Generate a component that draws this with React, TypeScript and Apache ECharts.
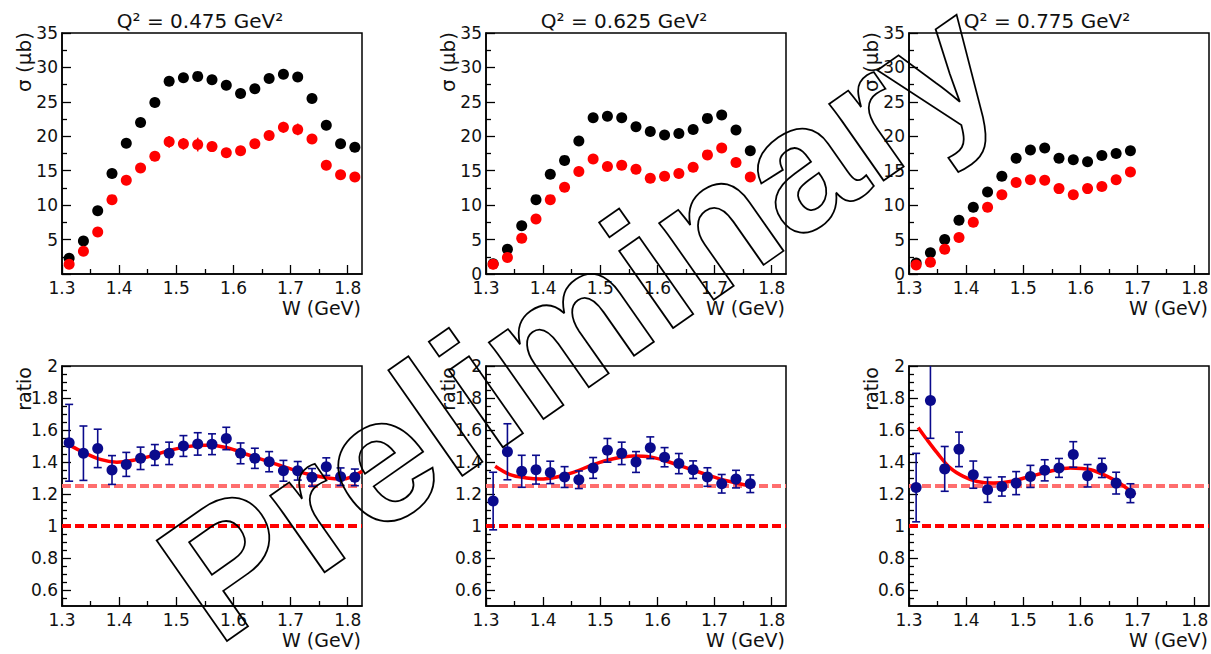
import React, { useEffect, useRef } from 'react';
import * as echarts from 'echarts';

// ---------------- data ----------------
const W_BINS = [1.3125, 1.3375, 1.3625, 1.3875, 1.4125, 1.4375, 1.4625, 1.4875, 1.5125, 1.5375, 1.5625,
  1.5875, 1.6125, 1.6375, 1.6625, 1.6875, 1.7125, 1.7375, 1.7625, 1.7875, 1.8125];

const Q2_TITLES = ['Q² = 0.475 GeV²', 'Q² = 0.625 GeV²', 'Q² = 0.775 GeV²'];

const SIG_BLACK_1 = [2.3, 4.8, 9.2, 14.6, 19.0, 22.0, 24.9, 28.0, 28.5, 28.7, 28.2, 27.4, 26.2, 26.9, 28.4, 29.0, 28.6, 25.5, 21.6, 18.9, 18.4];
const SIG_RED_1 = [1.4, 3.3, 6.1, 10.8, 13.6, 15.4, 17.1, 19.2, 18.9, 18.8, 18.5, 17.6, 17.9, 18.9, 20.1, 21.3, 21.0, 19.6, 15.8, 14.4, 14.1];
const ERR_RED_1 = [0.3, 0.4, 0.4, 0.5, 0.5, 0.5, 0.6, 0.85, 0.85, 1.0, 0.7, 0.6, 0.6, 0.6, 0.7, 0.8, 0.85, 0.6, 0.5, 0.5, 0.5];

const SIG_BLACK_2 = [1.5, 3.6, 7.0, 10.8, 14.5, 16.5, 19.3, 22.7, 22.9, 22.7, 21.4, 20.7, 20.2, 20.4, 21.0, 22.6, 23.1, 20.9, 17.9];
const SIG_RED_2 = [1.4, 2.4, 5.2, 8.0, 10.8, 12.6, 14.9, 16.7, 15.6, 15.8, 15.2, 13.9, 14.2, 14.6, 15.5, 17.3, 18.3, 16.2, 14.1];
const ERR_RED_2 = [0.3, 0.3, 0.4, 0.4, 0.4, 0.5, 0.5, 0.6, 0.6, 0.6, 0.6, 0.5, 0.5, 0.5, 0.6, 0.6, 0.7, 0.6, 0.6];

const SIG_BLACK_3 = [1.6, 3.1, 5.0, 7.8, 9.7, 11.9, 14.2, 16.8, 18.0, 18.3, 16.8, 16.6, 16.3, 17.2, 17.5, 17.9];
const SIG_RED_3 = [1.3, 1.7, 3.6, 5.3, 7.5, 9.7, 11.5, 13.3, 13.7, 13.6, 12.4, 11.5, 12.4, 12.7, 13.7, 14.8];
const ERR_RED_3 = [0.3, 0.3, 0.3, 0.4, 0.4, 0.4, 0.5, 0.5, 0.5, 0.5, 0.5, 0.5, 0.5, 0.5, 0.5, 0.6];

const RATIO_1 = [1.52, 1.455, 1.485, 1.35, 1.385, 1.423, 1.444, 1.454, 1.50, 1.513, 1.511, 1.547, 1.454, 1.423, 1.402, 1.345, 1.345, 1.304, 1.371, 1.308, 1.304];
const RATIO_ERR_1 = [0.24, 0.17, 0.12, 0.09, 0.075, 0.07, 0.065, 0.07, 0.065, 0.07, 0.065, 0.07, 0.065, 0.063, 0.063, 0.065, 0.058, 0.055, 0.055, 0.055, 0.052];
const RATIO_2 = [1.156, 1.464, 1.342, 1.352, 1.335, 1.306, 1.289, 1.363, 1.473, 1.454, 1.40, 1.489, 1.430, 1.390, 1.352, 1.306, 1.264, 1.293, 1.264];
const RATIO_ERR_2 = [0.18, 0.175, 0.10, 0.09, 0.07, 0.065, 0.055, 0.065, 0.074, 0.07, 0.065, 0.068, 0.06, 0.063, 0.055, 0.058, 0.058, 0.055, 0.055];
const RATIO_3 = [1.24, 1.785, 1.357, 1.479, 1.321, 1.226, 1.247, 1.268, 1.31, 1.348, 1.363, 1.447, 1.314, 1.363, 1.268, 1.205];
const RATIO_ERR_3 = [0.214, 0.237, 0.14, 0.108, 0.085, 0.078, 0.06, 0.072, 0.069, 0.066, 0.059, 0.08, 0.07, 0.06, 0.068, 0.059];

const FIT_W_1 = [1.314, 1.337, 1.367, 1.396, 1.425, 1.455, 1.484, 1.519, 1.554, 1.589, 1.624, 1.659, 1.695, 1.730, 1.765, 1.788, 1.806, 1.825];
const FIT_1 = [1.504, 1.462, 1.416, 1.399, 1.411, 1.437, 1.468, 1.496, 1.504, 1.489, 1.447, 1.405, 1.363, 1.325, 1.30, 1.293, 1.306, 1.342];
const FIT_W_2 = [1.316, 1.342, 1.371, 1.395, 1.424, 1.453, 1.488, 1.523, 1.558, 1.587, 1.616, 1.651, 1.686, 1.721, 1.762];
const FIT_2 = [1.373, 1.321, 1.30, 1.293, 1.306, 1.335, 1.384, 1.42, 1.437, 1.432, 1.405, 1.363, 1.321, 1.283, 1.251];
const FIT_W_3 = [1.316, 1.331, 1.349, 1.372, 1.395, 1.419, 1.448, 1.477, 1.512, 1.547, 1.582, 1.618, 1.647, 1.670, 1.696];
const FIT_3 = [1.616, 1.542, 1.458, 1.363, 1.31, 1.278, 1.268, 1.278, 1.31, 1.342, 1.363, 1.352, 1.31, 1.264, 1.194];

const REF_LEVELS = [1.25, 1.0];

const X_RANGE = [1.3, 1.825];
const X_MAJOR = [1.3, 1.4, 1.5, 1.6, 1.7, 1.8];
const X_MINOR = [1.35, 1.45, 1.55, 1.65, 1.75];
const SIG_RANGE = [0, 35];
const SIG_MAJOR = [0, 5, 10, 15, 20, 25, 30, 35];
const SIG_MAJOR_NO0 = [5, 10, 15, 20, 25, 30, 35];
const SIG_MINOR = [2.5, 7.5, 12.5, 17.5, 22.5, 27.5, 32.5];
const RATIO_RANGE = [0.5, 2];
const RATIO_MAJOR = [0.6, 0.8, 1.0, 1.2, 1.4, 1.6, 1.8, 2.0];
const RATIO_MINOR = [0.55, 0.65, 0.7, 0.75, 0.85, 0.9, 0.95, 1.05, 1.1, 1.15, 1.25, 1.3, 1.35, 1.45, 1.5, 1.55,
  1.65, 1.7, 1.75, 1.85, 1.9, 1.95];

// ---------------- style ----------------
const FONT = 'DejaVu Sans';
const TXT = '#111111';
const LEFTS = [62, 486, 909];
const PW = 300;
const ROW_TOP = { top: 33, height: 241 };
const ROW_BOT = { top: 366, height: 240 };
const BLUE = '#0a0a8c';
const RED = '#ff0000';
const PINK = '#ff6e6e';

const TOPS = [
  { black: SIG_BLACK_1, red: SIG_RED_1, err: ERR_RED_1, ticks: SIG_MAJOR_NO0 },
  { black: SIG_BLACK_2, red: SIG_RED_2, err: ERR_RED_2, ticks: SIG_MAJOR },
  { black: SIG_BLACK_3, red: SIG_RED_3, err: ERR_RED_3, ticks: SIG_MAJOR },
];
const BOTS = [
  { r: RATIO_1, e: RATIO_ERR_1, fw: FIT_W_1, f: FIT_1 },
  { r: RATIO_2, e: RATIO_ERR_2, fw: FIT_W_2, f: FIT_2 },
  { r: RATIO_3, e: RATIO_ERR_3, fw: FIT_W_3, f: FIT_3 },
];

function fmt(v: number) {
  return String(Number(Number(v).toFixed(3)));
}

function errRender(color: string, cap: number) {
  return (params: any, api: any) => {
    const x = api.value(0);
    const y = api.value(1);
    const e = api.value(2);
    const t = api.coord([x, y + e]);
    const b = api.coord([x, y - e]);
    const st = { stroke: color, lineWidth: 1.6 };
    const children: any[] = [
      { type: 'line', shape: { x1: t[0], y1: t[1], x2: b[0], y2: b[1] }, style: st },
    ];
    if (cap > 0) {
      children.push({ type: 'line', shape: { x1: t[0] - cap, y1: t[1], x2: t[0] + cap, y2: t[1] }, style: st });
      children.push({ type: 'line', shape: { x1: b[0] - cap, y1: b[1], x2: b[0] + cap, y2: b[1] }, style: st });
    }
    return { type: 'group', children };
  };
}

function buildOption() {
  const grid: any[] = [];
  const xAxis: any[] = [];
  const yAxis: any[] = [];
  const series: any[] = [];
  const graphic: any[] = [];

  const axisCommon = {
    type: 'value',
    splitLine: { show: false },
  };

  const addPanel = (g: number, left: number, row: any, yRange: number[], yMajor: number[], yMinor: number[], yLabels: number[]) => {
    grid.push({
      left, top: row.top, width: PW, height: row.height,
      show: true, borderColor: '#000', borderWidth: 1.5, backgroundColor: 'transparent',
      containLabel: false, outerBoundsMode: 'none',
    });
    xAxis.push({
      ...axisCommon, gridIndex: g, position: 'bottom', min: X_RANGE[0], max: X_RANGE[1],
      axisLine: { show: true, onZero: false, lineStyle: { color: '#000', width: 1.5 } },
      axisTick: { show: true, inside: true, length: 9, customValues: X_MAJOR, lineStyle: { color: '#000', width: 1.3 } },
      axisLabel: { show: true, customValues: X_MAJOR, formatter: (v: number) => Number(v).toFixed(1), fontFamily: FONT, fontSize: 17, color: TXT, margin: 5 },
    });
    xAxis.push({
      ...axisCommon, gridIndex: g, position: 'bottom', min: X_RANGE[0], max: X_RANGE[1],
      axisLine: { show: false, onZero: false },
      axisTick: { show: true, inside: true, length: 5, customValues: X_MINOR, lineStyle: { color: '#000', width: 1.3 } },
      axisLabel: { show: false },
    });
    yAxis.push({
      ...axisCommon, gridIndex: g, position: 'left', min: yRange[0], max: yRange[1],
      axisLine: { show: true, onZero: false, lineStyle: { color: '#000', width: 1.5 } },
      axisTick: { show: true, inside: true, length: 9, customValues: yMajor, lineStyle: { color: '#000', width: 1.3 } },
      axisLabel: { show: true, customValues: yLabels, formatter: fmt, fontFamily: FONT, fontSize: 17, color: TXT, margin: 4 },
    });
    yAxis.push({
      ...axisCommon, gridIndex: g, position: 'left', min: yRange[0], max: yRange[1],
      axisLine: { show: false, onZero: false },
      axisTick: { show: true, inside: true, length: 5, customValues: yMinor, lineStyle: { color: '#000', width: 1.3 } },
      axisLabel: { show: false },
    });
  };

  // top row
  TOPS.forEach((p, k) => {
    const g = k;
    addPanel(g, LEFTS[k], ROW_TOP, SIG_RANGE, SIG_MAJOR, SIG_MINOR, p.ticks);
    const n = p.black.length;
    const xs = W_BINS.slice(0, n);
    series.push({
      type: 'custom', xAxisIndex: 2 * g, yAxisIndex: 2 * g, clip: true, z: 3,
      renderItem: errRender(RED, 0),
      data: xs.map((w, i) => [w, p.red[i], p.err[i]]),
    });
    series.push({
      type: 'scatter', xAxisIndex: 2 * g, yAxisIndex: 2 * g, symbol: 'circle', symbolSize: 11, z: 4,
      itemStyle: { color: '#000', opacity: 1 },
      data: xs.map((w, i) => [w, p.black[i]]),
    });
    series.push({
      type: 'scatter', xAxisIndex: 2 * g, yAxisIndex: 2 * g, symbol: 'circle', symbolSize: 11, z: 5,
      itemStyle: { color: RED, opacity: 1 },
      data: xs.map((w, i) => [w, p.red[i]]),
    });
    graphic.push({
      type: 'text', x: LEFTS[k] + PW / 2 - 12, y: 21, z: 10,
      style: { text: Q2_TITLES[k], fontFamily: FONT, fontSize: 20, fill: TXT, textAlign: 'center', textVerticalAlign: 'middle' },
    });
    graphic.push({
      type: 'text', x: LEFTS[k] + PW - 1, y: 308, z: 10,
      style: { text: 'W (GeV)', fontFamily: FONT, fontSize: 19, fill: TXT, textAlign: 'right', textVerticalAlign: 'middle' },
    });
    graphic.push({
      type: 'text', x: LEFTS[k] - 38, y: 32, z: 10, rotation: Math.PI / 2,
      style: { text: 'σ (μb)', fontFamily: FONT, fontSize: 20, fill: TXT, textAlign: 'right', textVerticalAlign: 'middle' },
    });
  });

  // bottom row
  BOTS.forEach((p, k) => {
    const g = 3 + k;
    addPanel(g, LEFTS[k], ROW_BOT, RATIO_RANGE, RATIO_MAJOR, RATIO_MINOR, RATIO_MAJOR);
    const n = p.r.length;
    const xs = W_BINS.slice(0, n);
    const levelColors = [PINK, RED];
    REF_LEVELS.forEach((lv, j) => {
      series.push({
        type: 'line', xAxisIndex: 2 * g, yAxisIndex: 2 * g, symbol: 'none', z: 2, clip: true,
        lineStyle: { color: levelColors[j], width: 4, type: [9, 4] },
        data: [[X_RANGE[0], lv], [X_RANGE[1], lv]],
      });
    });
    series.push({
      type: 'line', xAxisIndex: 2 * g, yAxisIndex: 2 * g, symbol: 'none', z: 3, smooth: 0.35, clip: true,
      lineStyle: { color: RED, width: 3.5 },
      data: p.fw.map((w, i) => [w, p.f[i]]),
    });
    series.push({
      type: 'custom', xAxisIndex: 2 * g, yAxisIndex: 2 * g, clip: true, z: 4,
      renderItem: errRender(BLUE, 4),
      data: xs.map((w, i) => [w, p.r[i], p.e[i]]),
    });
    series.push({
      type: 'scatter', xAxisIndex: 2 * g, yAxisIndex: 2 * g, symbol: 'circle', symbolSize: 11, z: 5,
      itemStyle: { color: BLUE, opacity: 1 },
      data: xs.map((w, i) => [w, p.r[i]]),
    });
    graphic.push({
      type: 'text', x: LEFTS[k] + PW - 1, y: 640, z: 10,
      style: { text: 'W (GeV)', fontFamily: FONT, fontSize: 19, fill: TXT, textAlign: 'right', textVerticalAlign: 'middle' },
    });
    graphic.push({
      type: 'text', x: LEFTS[k] - 38, y: 367, z: 10, rotation: Math.PI / 2,
      style: { text: 'ratio', fontFamily: FONT, fontSize: 19, fill: TXT, textAlign: 'right', textVerticalAlign: 'middle' },
    });
  });

  // watermark
  graphic.push({
    type: 'text', x: 579, y: 319, z: 100, rotation: (35 * Math.PI) / 180,
    style: {
      text: 'Preliminary', fontFamily: 'Liberation Sans', fontWeight: 'bold', fontSize: 178,
      fill: 'none', stroke: '#000', lineWidth: 1.8, textAlign: 'center', textVerticalAlign: 'middle',
    },
  });

  return {
    animation: false,
    backgroundColor: '#ffffff',
    grid, xAxis, yAxis, series, graphic,
  };
}

export default function App() {
  const ref = useRef<HTMLDivElement>(null);
  useEffect(() => {
    if (!ref.current) return;
    const chart = echarts.init(ref.current, null, { renderer: 'svg' });
    chart.setOption(buildOption() as any);
    return () => chart.dispose();
  }, []);
  return (
    <div
      ref={ref}
      style={{ position: 'fixed', left: 0, top: 0, width: 1211, height: 654, background: '#fff' }}
    />
  );
}
